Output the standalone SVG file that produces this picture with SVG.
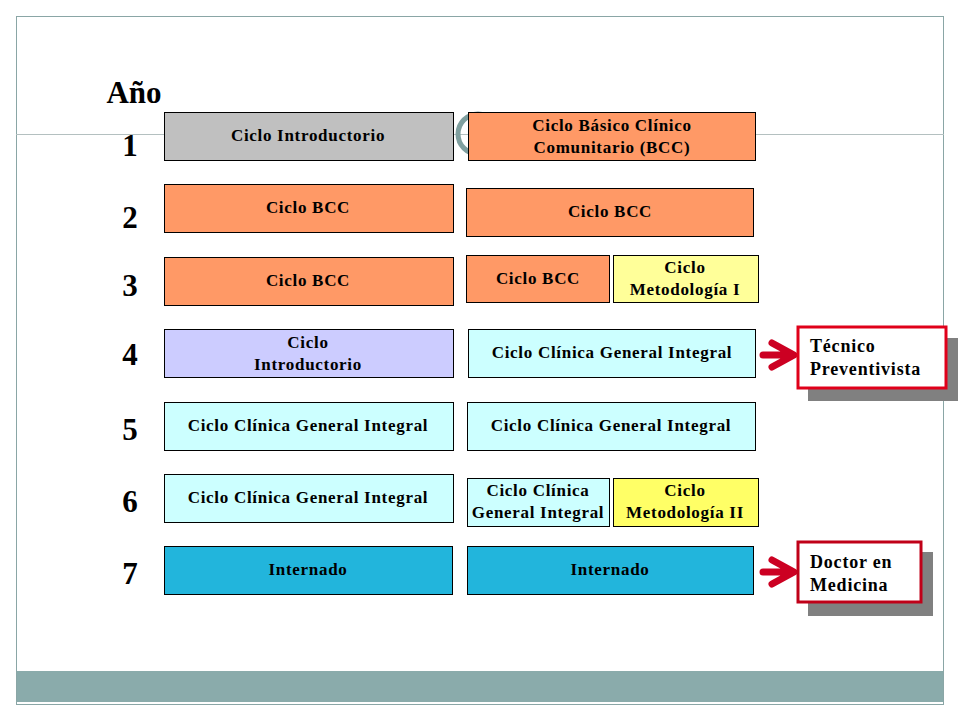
<svg xmlns="http://www.w3.org/2000/svg" width="960" height="720" viewBox="0 0 960 720">
<style>
.bx{stroke:#000;stroke-width:1}
.t{font-family:"Liberation Serif","Times New Roman",serif;font-weight:bold;font-size:17px;letter-spacing:0.7px;text-anchor:middle;fill:#000}
.y{font-family:"Liberation Serif","Times New Roman",serif;font-weight:bold;font-size:31px;text-anchor:middle;fill:#000}
.o{font-family:"Liberation Serif","Times New Roman",serif;font-weight:bold;font-size:18px;letter-spacing:0.8px;fill:#000}
.arr{fill:none;stroke:#cc0022;stroke-width:7;stroke-linecap:round;stroke-linejoin:round}
</style>
<rect width="960" height="720" fill="#fff"/>
<g id="frame">
<rect x="16.5" y="16.5" width="927" height="688" fill="#fff" stroke="#8aa6a6" stroke-width="1"/>
<line x1="16" y1="134.5" x2="944" y2="134.5" stroke="#b4c0c0" stroke-width="1"/>
<rect x="17" y="671" width="926" height="31" fill="#8aabab"/>
<circle cx="478" cy="134" r="20" fill="none" stroke="#7f9f9f" stroke-width="5"/>
</g>
<g id="years">
<text class="y" x="134" y="103">Año</text>
<text class="y" x="130" y="156">1</text>
<text class="y" x="130" y="228">2</text>
<text class="y" x="130" y="296">3</text>
<text class="y" x="130" y="365">4</text>
<text class="y" x="130" y="440">5</text>
<text class="y" x="130" y="512">6</text>
<text class="y" x="130" y="584">7</text>
</g>
<g id="r1a"><rect class="bx" x="164.5" y="112.5" width="289" height="48" fill="#c0c0c0"/><text class="t" x="308" y="141">Ciclo Introductorio</text></g>
<g id="r1b"><rect class="bx" x="468.5" y="112.5" width="287" height="48" fill="#ff9966"/><text class="t" x="612" y="131">Ciclo Básico Clínico</text><text class="t" x="612" y="153">Comunitario (BCC)</text></g>
<g id="r2a"><rect class="bx" x="164.5" y="184.5" width="289" height="48" fill="#ff9966"/><text class="t" x="308" y="213">Ciclo BCC</text></g>
<g id="r2b"><rect class="bx" x="466.5" y="188.5" width="287" height="48" fill="#ff9966"/><text class="t" x="610" y="217">Ciclo BCC</text></g>
<g id="r3a"><rect class="bx" x="164.5" y="257.5" width="289" height="48" fill="#ff9966"/><text class="t" x="308" y="286">Ciclo BCC</text></g>
<g id="r3b"><rect class="bx" x="466.5" y="255.5" width="143" height="47" fill="#ff9966"/><text class="t" x="538" y="284">Ciclo BCC</text></g>
<g id="r3c"><rect class="bx" x="613.5" y="255.5" width="145" height="47" fill="#ffff99"/><text class="t" x="685" y="273">Ciclo</text><text class="t" x="685" y="295">Metodología I</text></g>
<g id="r4a"><rect class="bx" x="164.5" y="329.5" width="289" height="48" fill="#ccccff"/><text class="t" x="308" y="348">Ciclo</text><text class="t" x="308" y="370">Introductorio</text></g>
<g id="r4b"><rect class="bx" x="468.5" y="329.5" width="287" height="48" fill="#ccffff"/><text class="t" x="612" y="358">Ciclo Clínica General Integral</text></g>
<g id="r5a"><rect class="bx" x="164.5" y="402.5" width="289" height="48" fill="#ccffff"/><text class="t" x="308" y="431">Ciclo Clínica General Integral</text></g>
<g id="r5b"><rect class="bx" x="467.5" y="402.5" width="288" height="48" fill="#ccffff"/><text class="t" x="611" y="431">Ciclo Clínica General Integral</text></g>
<g id="r6a"><rect class="bx" x="164.5" y="474.5" width="289" height="48" fill="#ccffff"/><text class="t" x="308" y="503">Ciclo Clínica General Integral</text></g>
<g id="r6b"><rect class="bx" x="467.5" y="478.5" width="142" height="48" fill="#ccffff"/><text class="t" x="538" y="496">Ciclo Clínica</text><text class="t" x="538" y="518">General Integral</text></g>
<g id="r6c"><rect class="bx" x="613.5" y="478.5" width="145" height="48" fill="#ffff66"/><text class="t" x="685" y="496">Ciclo</text><text class="t" x="685" y="518">Metodología II</text></g>
<g id="r7a"><rect class="bx" x="164.5" y="546.5" width="288" height="48" fill="#22b5dc"/><text class="t" x="308" y="575">Internado</text></g>
<g id="r7b"><rect class="bx" x="467.5" y="546.5" width="286" height="48" fill="#22b5dc"/><text class="t" x="610" y="575">Internado</text></g>
<g id="connectors">
<path class="arr" d="M763 355H792M772 343L794 355L772 367"/>
<path class="arr" d="M763 572H792M772 560L794 572L772 584"/>
</g>
<g id="tecnico">
<rect x="808" y="338" width="150" height="63" fill="#808080"/>
<rect x="798" y="327" width="148" height="61" fill="#fff" stroke="#e0001a" stroke-width="3"/>
<text class="o" x="810" y="352">Técnico</text><text class="o" x="810" y="375">Preventivista</text>
</g>
<g id="doctor">
<rect x="808" y="552" width="125" height="64" fill="#808080"/>
<rect x="798" y="542" width="123" height="60" fill="#fff" stroke="#c00018" stroke-width="3"/>
<text class="o" x="810" y="568">Doctor en</text><text class="o" x="810" y="591">Medicina</text>
</g>
</svg>
